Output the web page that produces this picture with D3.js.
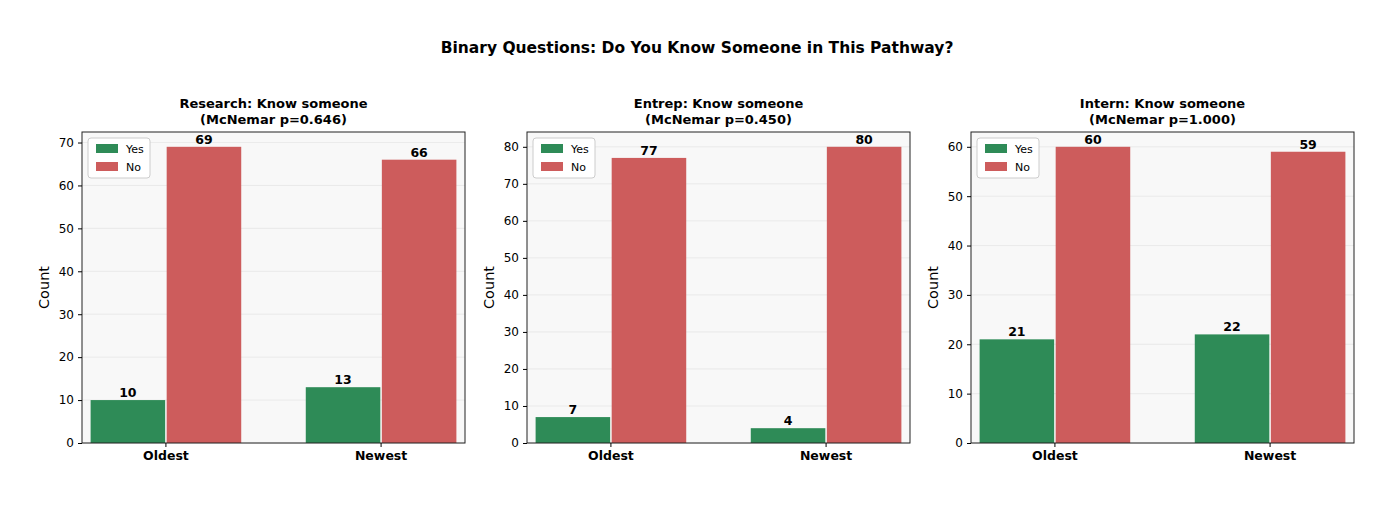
<!DOCTYPE html>
<html><head><meta charset="utf-8">
<script src="https://cdn.jsdelivr.net/npm/d3@7"></script>
<style>body{margin:0;background:#fff;font-family:"DejaVu Sans",sans-serif}</style>
</head><body><svg id="c" width="1400" height="508"></svg>
<script>
const groups = ['Oldest', 'Newest']
const titles = ['Research: Know someone', 'Entrep: Know someone', 'Intern: Know someone']
const pvals = ['0.646', '0.450', '1.000']
const yesVals = [[10, 13], [7, 4], [21, 22]]
const noVals = [[69, 66], [77, 80], [60, 59]]
const yTicks = [[0, 10, 20, 30, 40, 50, 60, 70], [0, 10, 20, 30, 40, 50, 60, 70, 80], [0, 10, 20, 30, 40, 50, 60]]

const svg = d3.select('#c')
svg.append('text').attr('x', 697).attr('y', 53).attr('text-anchor', 'middle')
  .attr('font-size', 15.5).attr('font-weight', 'bold').text('Binary Questions: Do You Know Someone in This Pathway?')

const lefts = [82, 527, 971], W = 383, plotTop = 132, plotBottom = 443
lefts.forEach((L, i) => {
  const g = svg.append('g')
  const maxV = d3.max([...yesVals[i], ...noVals[i]]) * 1.05
  const y = d3.scaleLinear().domain([0, maxV]).range([plotBottom, plotTop])
  const x = d3.scaleBand().domain(groups).range([L, L + W]).paddingInner(0.3).paddingOuter(0.04)
  const sub = d3.scaleBand().domain(['Yes', 'No']).range([0, x.bandwidth()]).paddingInner(0.02)
  g.append('rect').attr('x', L).attr('y', plotTop).attr('width', W).attr('height', plotBottom - plotTop).attr('fill', '#f8f8f8')
  g.selectAll('.gl').data(yTicks[i]).join('line').attr('x1', L).attr('x2', L + W)
    .attr('y1', d => y(d)).attr('y2', d => y(d)).attr('stroke', '#e6e6e6').attr('stroke-width', 0.8)
  const series = [['Yes', yesVals[i], '#2e8b57'], ['No', noVals[i], '#cd5c5c']]
  series.forEach(([k, vals, col]) => {
    groups.forEach((gr, j) => {
      const bx = x(gr) + sub(k)
      g.append('rect').attr('x', bx).attr('y', y(vals[j])).attr('width', sub.bandwidth())
        .attr('height', plotBottom - y(vals[j])).attr('fill', col)
      g.append('text').attr('x', bx + sub.bandwidth() / 2).attr('y', y(vals[j]) - 3).attr('text-anchor', 'middle')
        .attr('font-size', 12.5).attr('font-weight', 'bold').text(vals[j])
    })
  })
  g.append('rect').attr('x', L).attr('y', plotTop).attr('width', W).attr('height', plotBottom - plotTop)
    .attr('fill', 'none').attr('stroke', '#222').attr('stroke-width', 1)
  const ya = g.append('g').attr('transform', `translate(${L},0)`)
    .call(d3.axisLeft(y).tickValues(yTicks[i]).tickSize(4).tickPadding(4))
  ya.select('.domain').remove()
  ya.selectAll('text').attr('font-size', 12).attr('font-family', 'DejaVu Sans').attr('fill', '#000')
  const xa = g.append('g').attr('transform', `translate(0,${plotBottom})`).call(d3.axisBottom(x).tickSize(4).tickPadding(4))
  xa.select('.domain').remove()
  xa.selectAll('text').attr('font-size', 12.5).attr('font-weight', 'bold').attr('font-family', 'DejaVu Sans').attr('fill', '#000')
  g.append('text').attr('transform', `translate(${L - 33},${(plotTop + plotBottom) / 2}) rotate(-90)`)
    .attr('text-anchor', 'middle').attr('font-size', 14.5).text('Count')
  const cx = L + W / 2
  g.append('text').attr('x', cx).attr('y', 108).attr('text-anchor', 'middle').attr('font-size', 13)
    .attr('font-weight', 'bold').text(titles[i])
  g.append('text').attr('x', cx).attr('y', 124).attr('text-anchor', 'middle').attr('font-size', 13)
    .attr('font-weight', 'bold').text(`(McNemar p=${pvals[i]})`)
  const lg = g.append('g').attr('transform', `translate(${L + 6},${plotTop + 6})`)
  lg.append('rect').attr('width', 62).attr('height', 40).attr('rx', 3).attr('fill', '#fff').attr('stroke', '#ccc')
  series.forEach(([k, , col], m) => {
    lg.append('rect').attr('x', 8).attr('y', 6 + m * 18).attr('width', 22).attr('height', 9).attr('fill', col)
    lg.append('text').attr('x', 38).attr('y', 15 + m * 18).attr('font-size', 11).text(k)
  })
})
</script></body></html>
